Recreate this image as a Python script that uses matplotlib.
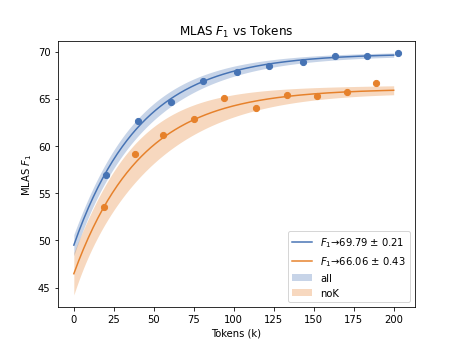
import numpy as np
import matplotlib
matplotlib.use("Agg")
import matplotlib.pyplot as plt

# Observed points (tokens in thousands, MLAS F1)
all_tokens = [20, 40, 61, 81, 102, 122, 143, 163, 183, 203]
all_f1 = [56.9, 62.6, 64.7, 66.9, 67.8, 68.5, 68.9, 69.5, 69.5, 69.8]

nok_tokens = [19, 38, 56, 75, 94, 114, 133, 152, 171, 189]
nok_f1 = [53.5, 59.1, 61.2, 62.8, 65.1, 64.0, 65.4, 65.3, 65.7, 66.7]

# Fitted saturation curves: f(x) = a - b * exp(-x / c), with parameter errors
all_fit = {"a": 69.79, "a_err": 0.21, "b": 20.3, "b_err": 1.1, "c": 42.0, "c_err": 4.5}
nok_fit = {"a": 66.06, "a_err": 0.43, "b": 19.6, "b_err": 2.2, "c": 42.0, "c_err": 10.5}

blue = "#4673b4"
orange = "#e6812b"


def curve(fit, x):
    e = np.exp(-x / fit["c"])
    y = fit["a"] - fit["b"] * e
    dc = fit["b"] * x / fit["c"] ** 2 * e
    err = np.sqrt(fit["a_err"] ** 2 + (fit["b_err"] * e) ** 2 + (fit["c_err"] * dc) ** 2)
    return y, err


fig, ax = plt.subplots(figsize=(6.4, 4.8), dpi=72)

xs = np.linspace(0, 200, 200)
for fit, tok, f1, col, name in [(all_fit, all_tokens, all_f1, blue, "all"),
                                (nok_fit, nok_tokens, nok_f1, orange, "noK")]:
    y, err = curve(fit, xs)
    ax.plot(xs, y, color=col, lw=1.5,
            label=r"$F_1$→%.2f $\pm$ %.2f" % (fit["a"], fit["a_err"]))
    ax.fill_between(xs, y - err, y + err, color=col, alpha=0.3, lw=0, label=name)
    ax.scatter(tok, f1, color=col, s=38, zorder=3)

ax.set_title(r"MLAS $F_1$ vs Tokens")
ax.set_xlabel("Tokens (k)")
ax.set_ylabel(r"MLAS $F_1$")
ax.set_xticks([0, 25, 50, 75, 100, 125, 150, 175, 200])
ax.set_yticks([45, 50, 55, 60, 65, 70])

h, l = ax.get_legend_handles_labels()
order = [0, 2, 1, 3]
ax.legend([h[i] for i in order], [l[i] for i in order], loc="lower right")

fig.savefig("out.png", dpi=72)
